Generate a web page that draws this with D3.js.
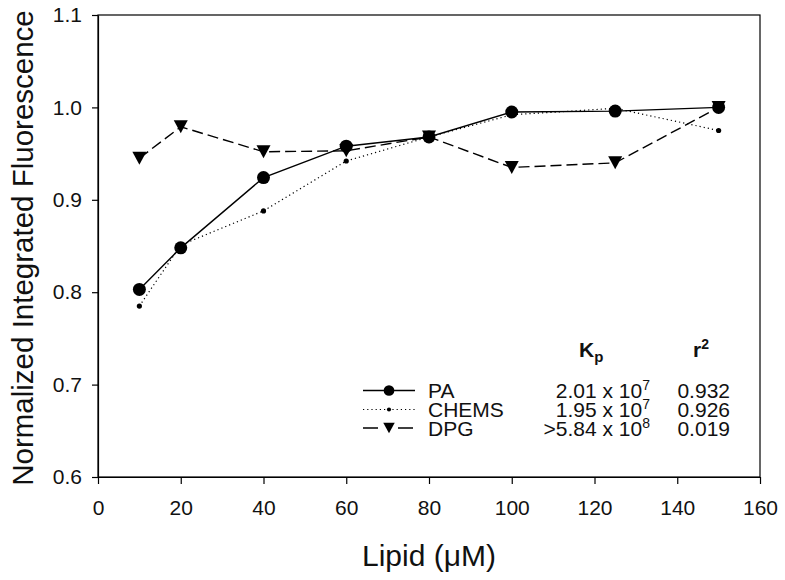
<!DOCTYPE html>
<html>
<head>
<meta charset="utf-8">
<script src="https://cdn.jsdelivr.net/npm/d3@7"></script>
<style>
  html, body { margin: 0; padding: 0; background: #fff; }
  svg { display: block; font-family: "Liberation Sans", Arial, sans-serif; }
</style>
</head>
<body>
<svg id="chart" width="785" height="580"></svg>
<script>
// ---- data ----
const lipid = [10, 20, 40, 60, 80, 100, 125, 150];
const paValues    = [0.803, 0.848, 0.924, 0.958, 0.968, 0.995, 0.996, 1.000];
const chemsValues = [0.785, 0.851, 0.888, 0.942, 0.968, 0.992, 0.999, 0.975];
const dpgValues   = [0.945, 0.979, 0.952, 0.953, 0.968, 0.935, 0.940, 1.000];
const seriesNames = ["PA", "CHEMS", "DPG"];
const kpPrefix = ["2.01 x 10", "1.95 x 10", ">5.84 x 10"];
const kpExponent = ["7", "7", "8"];
const r2Values = ["0.932", "0.926", "0.019"];
const xTicks = [0, 20, 40, 60, 80, 100, 120, 140, 160];
const yTicks = [0.6, 0.7, 0.8, 0.9, 1.0, 1.1];

const svg = d3.select("#chart");
const pL = 98, pR = 760, pT = 15, pB = 477;

const x = d3.scaleLinear().domain([0, 160]).range([pL, pR]);
const y = d3.scaleLinear().domain([0.6, 1.1]).range([pB, pT]);

// frame
svg.append("rect")
  .attr("x", pL).attr("y", pT)
  .attr("width", pR - pL).attr("height", pB - pT)
  .attr("fill", "none").attr("stroke", "#000").attr("stroke-width", 1.2);

// axes
const xAxis = svg.append("g")
  .attr("transform", `translate(0,${pB})`)
  .call(d3.axisBottom(x).tickValues(xTicks).tickSizeInner(7).tickSizeOuter(0).tickPadding(16).tickFormat(d3.format("d")));
const yAxis = svg.append("g")
  .attr("transform", `translate(${pL},0)`)
  .call(d3.axisLeft(y).tickValues(yTicks).tickSizeInner(6).tickSizeOuter(0).tickPadding(10).tickFormat(d3.format(".1f")));
[xAxis, yAxis].forEach(g => {
  g.select(".domain").attr("stroke", "#000").attr("stroke-width", 1.2);
  g.selectAll(".tick line").attr("stroke", "#000").attr("stroke-width", 1.2);
  g.selectAll(".tick text").attr("font-size", 21).attr("fill", "#111")
    .attr("font-family", "'Liberation Sans', Arial, sans-serif");
});

// axis titles
svg.append("text")
  .attr("x", (pL + pR) / 2).attr("y", 566)
  .attr("text-anchor", "middle").attr("font-size", 30).attr("fill", "#111")
  .text("Lipid (\u03BCM)");
svg.append("text")
  .attr("transform", `translate(33,${(pT + pB) / 2 + 2}) rotate(-90)`)
  .attr("text-anchor", "middle").attr("font-size", 29.5).attr("fill", "#111")
  .text("Normalized Integrated Fluorescence");

// series
const series = [
  { name: seriesNames[0], values: paValues, dash: null, legDash: null, width: 1.4, marker: "circle" },
  { name: seriesNames[1], values: chemsValues, dash: "1.2,3", legDash: "1.2,3", width: 1.2, marker: "dot" },
  { name: seriesNames[2], values: dpgValues, dash: "11,5", legDash: "15,20", width: 1.4, marker: "tri" }
];

const line = d3.line().x(d => x(d[0])).y(d => y(d[1]));

function drawMarker(g, type, cx, cy, scale) {
  if (type === "circle") {
    g.append("circle").attr("cx", cx).attr("cy", cy).attr("r", 6.5 * scale).attr("fill", "#000");
  } else if (type === "dot") {
    g.append("circle").attr("cx", cx).attr("cy", cy).attr("r", 2.6 * scale).attr("fill", "#000");
  } else {
    const w = 7 * scale, h = 6.5 * scale;
    g.append("path")
      .attr("d", `M${cx - w},${cy - h}L${cx + w},${cy - h}L${cx},${cy + h}Z`)
      .attr("fill", "#000");
  }
}

const order = [2, 1, 0];
order.forEach(i => {
  const s = series[i];
  const pts = lipid.map((l, j) => [l, s.values[j]]);
  svg.append("path")
    .attr("d", line(pts))
    .attr("fill", "none").attr("stroke", "#000")
    .attr("stroke-width", s.width)
    .attr("stroke-dasharray", s.dash);
});
order.forEach(i => {
  const s = series[i];
  const g = svg.append("g");
  lipid.forEach((l, j) => drawMarker(g, s.marker, x(l), y(s.values[j]), 1));
});

// legend
const leg = svg.append("g").attr("fill", "#111");
const rowBase = [398, 417, 435.5];
const kpHead = leg.append("text").attr("x", 579).attr("y", 357)
  .attr("font-size", 21).attr("font-weight", "bold");
kpHead.append("tspan").text("K");
kpHead.append("tspan").attr("font-size", 15).attr("dy", 5).text("p");
const r2Head = leg.append("text").attr("x", 693).attr("y", 357)
  .attr("font-size", 21).attr("font-weight", "bold");
r2Head.append("tspan").text("r");
r2Head.append("tspan").attr("font-size", 14).attr("dy", -8).text("2");

series.forEach((s, i) => {
  const cy = rowBase[i] - 7.5;
  leg.append("line")
    .attr("x1", 363).attr("x2", 415).attr("y1", cy).attr("y2", cy)
    .attr("stroke", "#000").attr("stroke-width", s.width)
    .attr("stroke-dasharray", s.legDash);
  drawMarker(leg, s.marker, 389, cy, s.marker === "dot" ? 0.8 : 0.82);
  leg.append("text").attr("x", 428).attr("y", rowBase[i])
    .attr("font-size", 21).text(s.name);
  const kt = leg.append("text").attr("x", 650).attr("y", rowBase[i])
    .attr("font-size", 21).attr("text-anchor", "end");
  kt.append("tspan").text(kpPrefix[i]);
  kt.append("tspan").attr("font-size", 14).attr("dy", -8).text(kpExponent[i]);
  leg.append("text").attr("x", 730).attr("y", rowBase[i])
    .attr("font-size", 21).attr("text-anchor", "end").text(r2Values[i]);
});
</script>
</body>
</html>
